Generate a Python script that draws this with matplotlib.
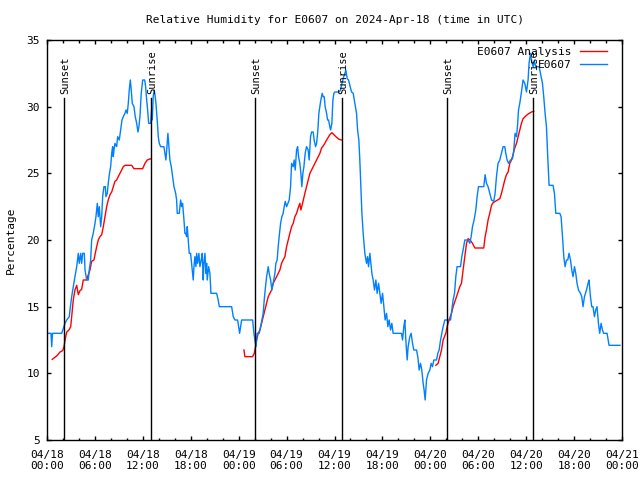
import numpy as np
import matplotlib
matplotlib.use("Agg")
import matplotlib.pyplot as plt
from matplotlib.ticker import MultipleLocator, FixedLocator

# hours since 2024-04-18 00:00 UTC
obs_hours = [
    0.00, 0.50, 0.59, 0.69, 1.84, 2.25, 2.47, 2.79, 2.88, 3.09, 3.29, 3.50, 3.72, 3.92,
    4.04, 4.22, 4.34, 4.47, 4.67, 4.76, 4.97, 5.17, 5.29, 5.47, 5.59, 5.79, 6.01, 6.13,
    6.30, 6.42, 6.55, 6.72, 6.85, 6.97, 7.13, 7.30, 7.38, 7.55, 7.67, 7.80, 7.97, 8.10,
    8.22, 8.30, 8.39, 8.51, 8.72, 8.85, 9.05, 9.22, 9.39, 9.55, 9.76, 9.89, 10.05, 10.18,
    10.30, 10.43, 10.55, 10.68, 10.89, 11.05, 11.23, 11.39, 11.51, 11.64, 11.80, 11.98,
    12.23, 12.35, 12.48, 12.60, 12.73, 12.98, 13.10, 13.18, 13.30, 13.43, 13.55, 13.64,
    13.77, 13.86, 13.93, 14.06, 14.23, 14.64, 14.77, 14.89, 15.02, 15.14, 15.23, 15.39,
    15.56, 15.73, 15.90, 16.11, 16.23, 16.31, 16.56, 16.73, 16.86, 16.98, 17.15, 17.27,
    17.36, 17.48, 17.56, 17.68, 17.81, 17.98, 18.15, 18.31, 18.40, 18.52, 18.65, 18.74,
    18.86, 19.02, 19.15, 19.31, 19.44, 19.56, 19.65, 19.78, 19.90, 19.99, 20.06, 20.24,
    20.40, 20.53, 21.24, 21.44, 21.57, 23.12, 23.32, 23.53, 23.87, 23.99, 24.12, 24.37,
    25.75, 25.91, 26.03, 26.16, 26.32, 26.57, 26.75, 26.91, 27.07, 27.20, 27.32, 27.50,
    27.70, 27.82, 28.00, 28.16, 28.32, 28.54, 28.66, 28.82, 28.95, 29.07, 29.25, 29.41,
    29.57, 29.70, 29.83, 30.00, 30.16, 30.33, 30.50, 30.63, 30.83, 30.95, 31.08, 31.25,
    31.38, 31.50, 31.66, 31.79, 31.91, 32.04, 32.17, 32.33, 32.50, 32.70, 32.83, 33.00,
    33.13, 33.33, 33.45, 33.63, 33.76, 33.92, 34.04, 34.17, 34.29, 34.46, 34.58, 34.71,
    34.83, 35.01, 35.13, 35.26, 35.38, 35.51, 35.67, 35.80, 35.92, 36.05, 36.58, 36.76,
    36.88, 37.08, 37.30, 37.42, 37.59, 37.76, 37.92, 38.14, 38.34, 38.55, 38.76, 38.89,
    39.05, 39.17, 39.30, 39.43, 39.59, 39.80, 40.01, 40.14, 40.26, 40.43, 40.55, 40.68,
    40.84, 41.01, 41.18, 41.34, 41.52, 41.68, 41.84, 42.02, 42.18, 42.34, 42.52, 42.68,
    42.84, 43.02, 43.18, 43.34, 44.39, 44.52, 44.68, 44.81, 44.93, 45.10, 45.22, 45.43,
    45.60, 45.77, 45.93, 46.27, 46.43, 46.60, 46.77, 46.93, 47.10, 47.22, 47.35, 47.52,
    47.72, 47.94, 48.10, 48.27, 48.44, 48.77, 48.94, 49.10, 49.28, 49.44, 49.60, 49.81,
    50.53, 50.69, 50.85, 51.03, 51.19, 51.35, 51.78, 51.94, 52.10, 52.32, 52.73, 52.94,
    53.11, 53.28, 53.48, 53.69, 53.86, 54.03, 54.69, 54.86, 55.03, 55.23, 55.44, 55.66,
    55.94, 56.11, 56.28, 56.48, 56.70, 56.91, 57.11, 57.32, 57.45, 57.61, 57.79, 58.04,
    58.29, 58.45, 58.61, 58.79, 58.91, 59.04, 59.20, 59.41, 59.61, 59.83, 60.04, 60.24,
    60.36, 60.54, 60.66, 60.87, 61.04, 61.20, 61.62, 61.79, 62.04, 62.20, 62.37, 62.54,
    62.70, 62.87, 63.37, 63.54, 63.71, 64.21, 64.37, 64.55, 64.71, 64.87, 65.05, 65.21,
    65.37, 65.55, 65.71, 65.87, 66.05, 66.21, 66.37, 66.55, 66.80, 66.96, 67.12, 67.30,
    67.55, 67.75, 67.87, 68.05, 68.21, 68.37, 68.55, 68.71, 68.87, 69.05, 69.21, 69.38,
    69.55, 69.71, 70.13, 70.38, 71.75,
]
obs_rh = [
    13.0, 13.0, 12.0, 13.0, 13.0, 13.75, 14.0, 14.25, 14.75, 15.75, 16.5, 17.25, 18.0, 19.0,
    18.25, 19.0, 18.25, 19.0, 19.0, 17.75, 17.0, 17.0, 17.75, 18.5, 20.0, 20.5, 21.25, 21.75,
    22.75, 21.75, 22.5, 21.0, 21.75, 23.25, 24.0, 24.0, 23.25, 23.5, 24.25, 24.9, 25.5, 26.5,
    27.0, 26.25, 26.75, 27.25, 27.0, 27.75, 27.5, 28.25, 29.0, 29.25, 29.5, 29.75, 29.5, 30.25,
    31.25, 32.0, 31.25, 30.25, 30.0, 29.25, 28.75, 28.1, 28.5, 29.25, 31.0, 32.0,
    32.0, 31.5, 30.5, 29.75, 28.75, 28.75, 29.75, 29.0, 30.75, 31.25, 30.75, 30.25,
    29.25, 28.5, 27.75, 27.25, 27.0, 27.0, 26.5, 26.0, 27.0, 28.0, 27.25, 26.0,
    25.5, 24.75, 24.0, 23.5, 23.0, 22.0, 22.0, 23.0, 22.5, 22.75, 21.5, 20.5,
    20.5, 20.25, 21.0, 20.0, 19.0, 19.0, 18.0, 17.0, 18.0, 18.75, 18.0, 19.0,
    18.25, 19.0, 18.0, 18.5, 19.0, 17.0, 18.25, 19.0, 17.5, 18.25, 17.0, 18.0,
    17.5, 16.0, 16.0, 15.5, 15.0, 15.0, 14.25, 14.0, 14.0, 13.5, 13.0, 14.0,
    14.0, 13.0, 12.5, 12.0, 13.0, 13.0, 13.5, 14.0, 14.5, 15.5, 16.25, 17.25,
    18.0, 17.5, 17.0, 16.25, 16.75, 17.5, 18.25, 18.5, 19.5, 20.25, 21.25, 21.75,
    22.0, 22.5, 22.9, 22.5, 22.75, 23.0, 24.0, 25.75, 25.5, 26.0, 25.25, 26.75,
    27.0, 26.25, 25.75, 25.0, 24.0, 25.0, 25.5, 26.5, 27.0, 26.75, 26.0, 27.75,
    28.1, 28.1, 27.5, 27.0, 27.25, 28.25, 29.5, 30.0, 30.5, 31.0, 30.75, 30.75,
    30.0, 29.5, 29.0, 29.0, 28.6, 28.25, 28.75, 30.5, 31.0, 31.1, 31.1, 31.25,
    31.6, 32.1, 32.5, 32.75, 32.1, 32.0, 31.6, 31.1, 31.0, 30.25, 29.5, 28.25,
    27.5, 26.0, 24.0, 22.0, 20.5, 19.0, 18.25, 18.75, 18.0, 19.0, 18.25, 17.5,
    17.0, 16.25, 17.0, 16.0, 16.75, 16.0, 15.25, 16.0, 15.0, 14.0, 14.5, 13.5,
    14.0, 13.25, 13.75, 13.0, 13.0, 12.5, 13.5, 14.0, 12.5, 11.0, 12.0, 12.75,
    13.0, 12.25, 11.75, 11.75, 11.25, 10.25, 10.75, 10.25, 9.25, 8.75, 8.0, 9.5,
    10.0, 10.25, 10.75, 10.5, 11.0, 11.0, 11.5, 11.75, 12.5, 13.0, 13.5, 14.0,
    14.0, 14.75, 15.5, 16.0, 17.25, 18.0, 18.0, 18.75, 19.25, 20.0, 20.0, 19.75,
    20.25, 21.0, 21.5, 22.25, 23.25, 24.0, 24.0, 24.9, 24.25, 24.0, 23.5, 23.0,
    22.9, 23.5, 24.75, 25.75, 26.0, 26.5, 27.0, 27.0, 26.5, 26.0, 25.75, 26.0,
    26.1, 26.75, 28.0, 27.75, 28.5, 29.75, 30.25, 31.1, 32.0, 31.75, 31.1, 32.0,
    33.25, 34.0, 33.5, 33.0, 33.4, 33.0, 33.0, 32.5, 31.75, 30.75, 29.5, 28.5,
    26.25, 24.1, 24.1, 23.5, 22.0, 22.0, 21.75, 20.25, 18.75, 18.0, 18.5, 18.5,
    19.0, 18.5, 17.75, 17.25, 18.0, 17.5, 16.75, 16.25, 16.0, 15.75, 15.0, 15.75,
    16.25, 16.75, 17.0, 15.75, 15.0, 15.0, 14.25, 14.75, 15.0, 13.75, 13.0, 13.75,
    13.25, 13.0, 13.0, 12.1, 12.1,
]

# analysis series, nan marks the gaps between the three daytime runs
ana_hours = [
    0.66, 1.21, 1.63, 1.96, 2.13, 2.29, 2.47, 2.75, 2.97, 3.09, 3.29, 3.50, 3.72, 3.92,
    4.13, 4.34, 4.54, 4.97, 5.17, 5.38, 5.59, 5.88, 6.01, 6.22, 6.42, 6.63, 6.85, 7.05,
    7.26, 7.47, 7.67, 7.89, 8.10, 8.30, 8.51, 8.72, 8.92, 9.14, 9.35, 9.55, 9.76, 10.60,
    10.89, 11.98, 12.27, 12.55, 13.02, np.nan,
    24.66, 24.78, 25.75, 25.95, 26.03, 26.25, 26.45, 26.66, 26.87, 27.07, 27.28, 27.50,
    27.70, 27.91, 28.12, 28.32, 28.54, 28.75, 28.95, 29.16, 29.37, 29.57, 29.79, 30.00,
    30.20, 30.41, 30.63, 30.83, 31.04, 31.25, 31.45, 31.66, 31.79, 32.00, 32.29, 32.50,
    32.70, 32.92, 33.13, 33.33, 33.54, 33.76, 33.96, 34.17, 34.38, 34.58, 34.79, 35.01,
    35.21, 35.42, 35.67, 35.92, 36.26, 36.58, 36.88, np.nan,
    48.69, 48.97, 49.19, 49.40, 49.60, 49.94, 50.10, 50.35, 50.65, 50.85, 51.28, 51.69,
    51.90, 52.10, 52.32, 52.53, 52.73, 52.98, 53.28, 53.57, 54.69, 54.86, 55.03, 55.23,
    55.44, 55.66, 55.86, 56.28, 56.70, 56.91, 57.11, 57.32, 57.53, 57.74, 57.95, 58.16,
    58.36, 58.57, 58.79, 58.99, 59.20, 59.41, 59.61, 59.95, 60.24, 60.66, 60.95,
]
ana_rh = [
    11.05, 11.3, 11.6, 11.7, 12.0, 12.6, 13.1, 13.25, 13.5, 14.25, 15.5, 16.25, 16.6, 15.9,
    16.2, 16.3, 17.0, 17.0, 17.4, 17.75, 18.4, 18.5, 18.9, 19.5, 20.0, 20.25, 20.4, 21.0,
    21.75, 22.5, 23.0, 23.4, 23.6, 24.0, 24.4, 24.5, 24.75, 25.0, 25.25, 25.5, 25.6, 25.6,
    25.35, 25.35, 25.75, 26.0, 26.1, np.nan,
    11.75, 11.25, 11.25, 11.5, 11.75, 12.5, 13.0, 13.25, 13.75, 14.25, 14.75, 15.25,
    15.75, 16.0, 16.25, 16.75, 17.0, 17.25, 17.5, 17.75, 18.25, 18.5, 18.75, 19.5,
    20.0, 20.5, 21.0, 21.25, 21.75, 22.0, 22.4, 22.75, 22.25, 22.75, 23.5, 24.0,
    24.5, 25.0, 25.25, 25.5, 25.75, 26.0, 26.25, 26.5, 26.9, 27.05, 27.25, 27.5,
    27.7, 27.9, 28.05, 27.9, 27.7, 27.55, 27.5, np.nan,
    10.6, 10.75, 11.25, 11.75, 12.5, 13.0, 13.5, 14.0, 14.5, 15.0, 15.75, 16.5,
    16.75, 17.75, 18.75, 19.75, 20.1, 20.0, 19.75, 19.4, 19.4, 20.25, 20.75, 21.5,
    22.0, 22.6, 22.8, 22.95, 23.1, 23.5, 24.0, 24.5, 24.9, 25.1, 25.75, 26.0,
    26.4, 26.9, 27.25, 27.75, 28.25, 28.75, 29.1, 29.3, 29.45, 29.6, 29.65,
]

sunset_hours = [2.1, 26.1, 50.1]
sunrise_hours = [13.0, 36.95, 60.9]
sun_line_top = 30.65

tick_days = ['04/18'] * 4 + ['04/19'] * 4 + ['04/20'] * 4 + ['04/21']
tick_times = ['00:00', '06:00', '12:00', '18:00'] * 3 + ['00:00']

MONO = ['DejaVu Sans Mono']
plt.rcParams['font.family'] = MONO
plt.rcParams['font.size'] = 8

fig = plt.figure(figsize=(6.4, 4.8), dpi=100)
ax = fig.add_axes([47 / 640, 1 - 440 / 480, 575 / 640, 400 / 480])

ax.plot(ana_hours, ana_rh, color='#ff0000', lw=1.0, label='E0607 Analysis')
ax.plot(obs_hours, obs_rh, color='#0080ff', lw=1.0, label='E0607')

# sunset / sunrise markers
for h in sunset_hours:
    ax.plot([h, h], [5, sun_line_top], color='black', lw=1.0)
    ax.text(h + 0.15, sun_line_top + 0.3, 'Sunset', rotation=90, ha='center', va='bottom',
            fontsize=7.5)
for h in sunrise_hours:
    ax.plot([h, h], [5, sun_line_top], color='black', lw=1.0)
    ax.text(h + 0.15, sun_line_top + 0.3, 'Sunrise', rotation=90, ha='center', va='bottom',
            fontsize=7.5)

ax.set_xlim(0, 72)
ax.set_ylim(5, 35)
ax.xaxis.set_major_locator(FixedLocator(np.arange(0, 73, 6)))
ax.set_xticklabels([d + '\n' + t for d, t in zip(tick_days, tick_times)])
ax.xaxis.set_minor_locator(MultipleLocator(2))
ax.yaxis.set_major_locator(MultipleLocator(5))
ax.tick_params(which='both', direction='in', top=True, right=True, width=1.0)
ax.tick_params(which='major', length=3.2, pad=7)
ax.tick_params(which='minor', length=1.8)
ax.tick_params(axis='y', pad=5)
for s in ax.spines.values():
    s.set_linewidth(1.0)

ax.set_title('Relative Humidity for E0607 on 2024-Apr-18 (time in UTC)', fontsize=8, pad=12)
ax.set_ylabel('Percentage', labelpad=8)

leg = ax.legend(loc='upper right', bbox_to_anchor=(0.985, 1.0), frameon=False,
                markerfirst=False, handlelength=2.4, handletextpad=0.8,
                labelspacing=0.3, borderaxespad=0.2)

fig.savefig('out.png', dpi=100)
